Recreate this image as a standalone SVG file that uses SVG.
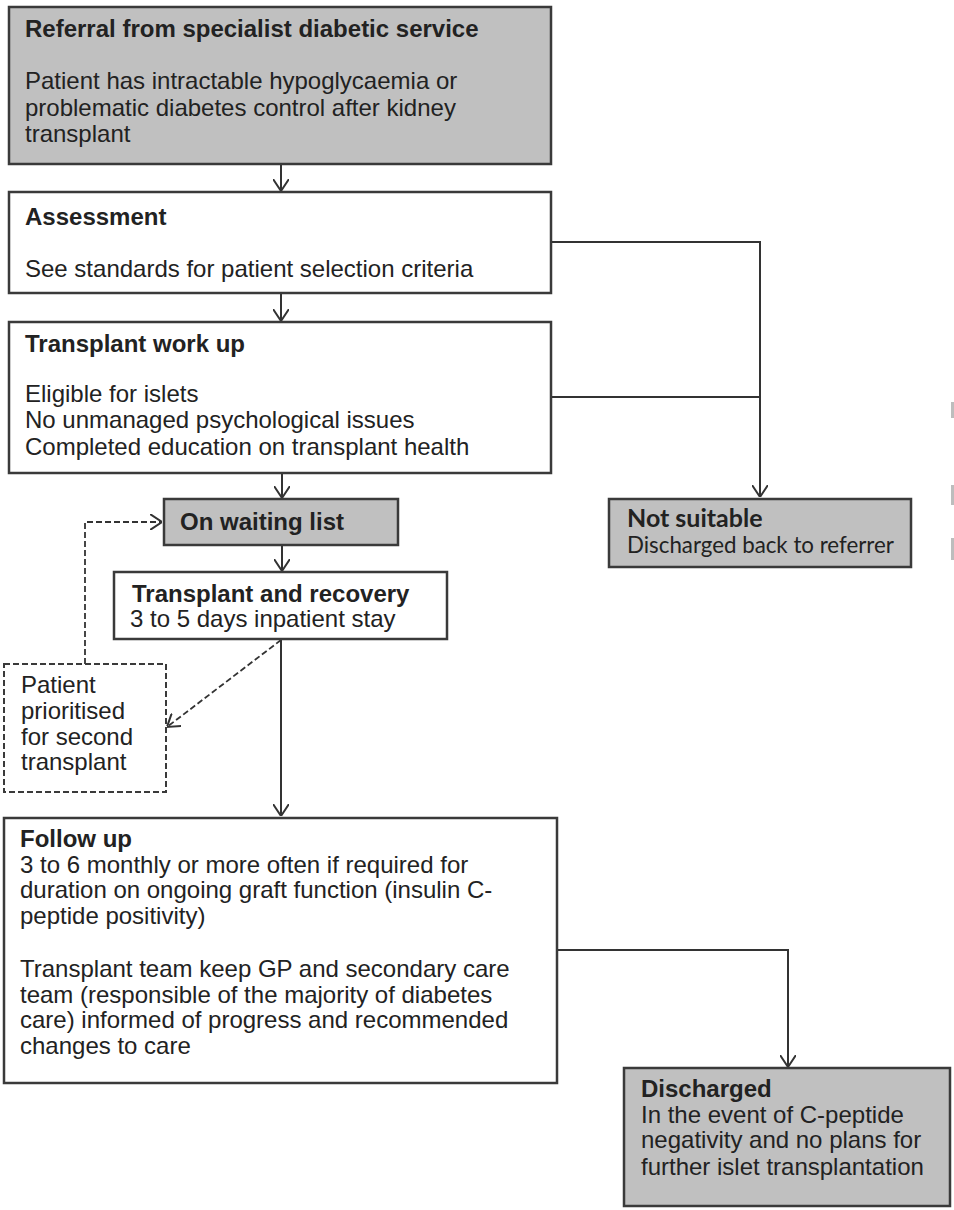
<svg xmlns="http://www.w3.org/2000/svg" width="954" height="1210" viewBox="0 0 954 1210">
<style>
.box{fill:#ffffff;stroke:#3a3a3a;stroke-width:2.5}
.grey{fill:#c0c0c0;stroke:#3a3a3a;stroke-width:2.5}
.dash{fill:#ffffff;stroke:#3a3a3a;stroke-width:2;stroke-dasharray:6,3}
.t{font-family:"Liberation Sans",Arial,sans-serif;font-size:24px;fill:#222222}
.b{font-weight:bold}
.c{font-family:Lato,"Open Sans",sans-serif;font-size:22.3px;fill:#222222}
.ct{font-size:25px}
.ln{fill:none;stroke:#333333;stroke-width:2}
.dl{fill:none;stroke:#333333;stroke-width:1.8;stroke-dasharray:6,3}
</style>
<defs>
<marker id="arr" viewBox="0 0 12 16" markerWidth="12" markerHeight="16" refX="12" refY="8" orient="auto" markerUnits="userSpaceOnUse">
<path d="M0,0 L12,8 L0,16" fill="none" stroke="#333333" stroke-width="2"/>
</marker>
</defs>
<rect x="0" y="0" width="954" height="1210" fill="#ffffff"/>
<g id="connectors">
<path class="ln" d="M281,164 V191" marker-end="url(#arr)"/>
<path class="ln" d="M281,293 V321" marker-end="url(#arr)"/>
<path class="ln" d="M551,242 H760 V497" marker-end="url(#arr)"/>
<path class="ln" d="M551,397 H760"/>
<path class="ln" d="M282,473 V498" marker-end="url(#arr)"/>
<path class="ln" d="M282,545 V571" marker-end="url(#arr)"/>
<path class="ln" d="M281,639 V816" marker-end="url(#arr)"/>
<path class="dl" d="M281,640 L167,727" marker-end="url(#arr)"/>
<path class="dl" d="M85,664 V522 H162" marker-end="url(#arr)"/>
<path class="ln" d="M557,950 H788 V1067" marker-end="url(#arr)"/>
</g>
<g id="referral">
<rect class="grey" x="9" y="7" width="542" height="157"/>
<text class="t b" x="25" y="37">Referral from specialist diabetic service</text>
<text class="t" x="25" y="89">Patient has intractable hypoglycaemia  or</text>
<text class="t" x="25" y="116">problematic diabetes control after kidney</text>
<text class="t" x="25" y="142">transplant</text>
</g>
<g id="assessment">
<rect class="box" x="9" y="192" width="542" height="101"/>
<text class="t b" x="25" y="225">Assessment</text>
<text class="t" x="25" y="277">See standards for patient selection criteria</text>
</g>
<g id="workup">
<rect class="box" x="9" y="322" width="542" height="151"/>
<text class="t b" x="25" y="352">Transplant work up</text>
<text class="t" x="25" y="402">Eligible for islets</text>
<text class="t" x="25" y="428">No unmanaged psychological issues</text>
<text class="t" x="25" y="455">Completed education on transplant health</text>
</g>
<g id="waiting">
<rect class="grey" x="164" y="499" width="234" height="46"/>
<text class="t b" x="180" y="530">On waiting list</text>
</g>
<g id="transplant">
<rect class="box" x="114" y="572" width="333" height="67"/>
<text class="t b" x="132" y="602">Transplant and recovery</text>
<text class="t" x="130" y="627">3 to 5 days inpatient  stay</text>
</g>
<g id="prioritised">
<rect class="dash" x="4" y="664" width="162" height="128"/>
<text class="t" x="21" y="693">Patient</text>
<text class="t" x="21" y="719">prioritised</text>
<text class="t" x="21" y="745">for second</text>
<text class="t" x="21" y="770">transplant</text>
</g>
<g id="notsuitable">
<rect class="grey" x="609" y="499" width="302" height="68"/>
<text class="c ct b" x="627" y="527">Not suitable</text>
<text class="c" x="627" y="553">Discharged back to referrer</text>
</g>
<g id="followup">
<rect class="box" x="4" y="818" width="553" height="265"/>
<text class="t b" x="20" y="847">Follow up</text>
<text class="t" x="20" y="873">3 to 6 monthly  or more often if required for</text>
<text class="t" x="20" y="898">duration on ongoing graft function (insulin C-</text>
<text class="t" x="20" y="924">peptide positivity)</text>
<text class="t" x="20" y="977">Transplant team keep GP and secondary care</text>
<text class="t" x="20" y="1003">team (responsible of the majority of diabetes</text>
<text class="t" x="20" y="1028">care)  informed of progress and recommended</text>
<text class="t" x="20" y="1054">changes to care</text>
</g>
<g id="discharged">
<rect class="grey" x="624" y="1068" width="326" height="138"/>
<text class="t b" x="641" y="1097">Discharged</text>
<text class="t" x="641" y="1123">In the event of C-peptide</text>
<text class="t" x="641" y="1148">negativity and no plans for</text>
<text class="t" x="641" y="1175">further islet transplantation</text>
</g>
<g id="edge-marks" fill="#bdbdbd">
<rect x="951" y="402" width="3" height="16"/>
<rect x="951" y="485" width="3" height="20"/>
<rect x="951" y="538" width="3" height="22"/>
</g>
</svg>
